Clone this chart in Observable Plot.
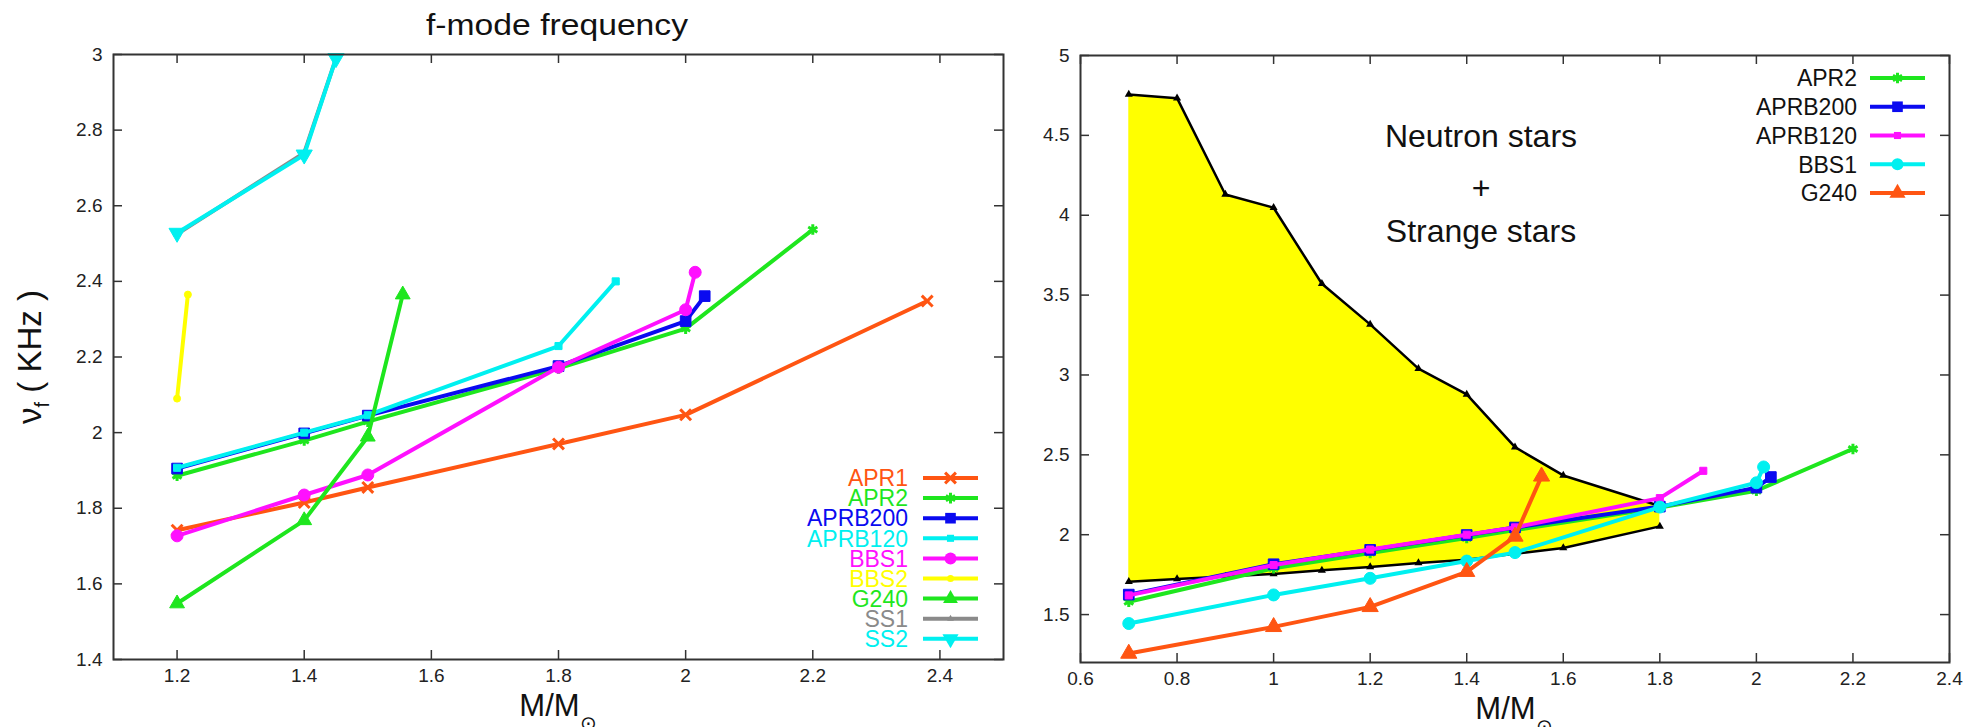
<!DOCTYPE html>
<html><head><meta charset="utf-8">
<script src="https://cdn.jsdelivr.net/npm/d3@7"></script>
<script src="https://cdn.jsdelivr.net/npm/@observablehq/plot@0.6"></script>
<style>
html,body{margin:0;padding:0;background:#fff;overflow:hidden;}
#root{position:relative;width:1982px;height:727px;overflow:hidden;font-family:"Liberation Sans",Arial,sans-serif;}
#left{position:absolute;left:0;top:0;}
#right{position:absolute;left:1030px;top:0;}
#overlay{position:absolute;left:0;top:0;pointer-events:none;}
</style></head>
<body><div id="root"><div id="left"></div><div id="right"></div><svg id="overlay" width="1982" height="727"></svg></div>
<script>
// ---------------- data ----------------
const leftXTicks = [1.2, 1.4, 1.6, 1.8, 2.0, 2.2, 2.4];
const leftYTicks = [1.4, 1.6, 1.8, 2.0, 2.2, 2.4, 2.6, 2.8, 3.0];
const rightXTicks = [0.6, 0.8, 1.0, 1.2, 1.4, 1.6, 1.8, 2.0, 2.2, 2.4];
const rightYTicks = [1.5, 2.0, 2.5, 3.0, 3.5, 4.0, 4.5, 5.0];

const apr1Mass = [1.2, 1.4, 1.5, 1.8, 2.0, 2.38];
const apr1Freq = [1.742, 1.815, 1.855, 1.970, 2.047, 2.348];
const apr2Mass = [0.7, 1.0, 1.2, 1.4, 1.5, 1.8, 2.0, 2.2];
const apr2Freq = [1.58, 1.79, 1.886, 1.979, 2.029, 2.17, 2.275, 2.537];
const aprb200Mass = [0.7, 1.0, 1.2, 1.4, 1.5, 1.8, 2.0, 2.03];
const aprb200Freq = [1.625, 1.815, 1.905, 1.998, 2.045, 2.176, 2.295, 2.361];
const aprb120Mass = [0.7, 1.0, 1.2, 1.4, 1.5, 1.8, 1.89];
const aprb120Freq = [1.62, 1.81, 1.907, 2.0, 2.046, 2.229, 2.4];
const bbs1Mass = [0.7, 1.0, 1.2, 1.4, 1.5, 1.8, 2.0, 2.015];
const bbs1Freq = [1.444, 1.623, 1.727, 1.835, 1.888, 2.173, 2.325, 2.424];
const bbs2Mass = [1.2, 1.217];
const bbs2Freq = [2.09, 2.365];
const g240Mass = [0.7, 1.0, 1.2, 1.4, 1.5, 1.555];
const g240Freq = [1.256, 1.423, 1.548, 1.768, 1.989, 2.365];
const ss1Mass = [1.2, 1.4, 1.45];
const ss1Freq = [2.525, 2.74, 2.99];
const ss2Mass = [1.2, 1.4, 1.45];
const ss2Freq = [2.528, 2.735, 2.99];

const bandMass = [0.7, 0.8, 0.9, 1.0, 1.1, 1.2, 1.3, 1.4, 1.5, 1.6, 1.8];
const bandUpper = [4.756, 4.733, 4.13, 4.047, 3.571, 3.317, 3.04, 2.879, 2.548, 2.371, 2.18];
const bandLower = [1.706, 1.723, 1.738, 1.754, 1.777, 1.798, 1.823, 1.844, 1.881, 1.917, 2.052];

const leftTitle = "f-mode frequency";
const annotLines = ["Neutron stars", "+", "Strange stars"];

// ---------------- styles ----------------
const COL = {orange: "#ff5512", green: "#1ee61e", blue: "#0a0af0", cyan: "#00f0f0",
  magenta: "#ff10ff", yellow: "#ffff00", grey: "#8a8a8a", black: "#000"};
const axisColor = "#333";
const FONT = '"Liberation Sans", Arial, sans-serif';
const fmt = d3.format("~g");
const rows = (mass, freq) => mass.map((m, i) => ({m, f: freq[i]}));

const leftSeries = [
  {name: "APR1", mass: apr1Mass, freq: apr1Freq, color: COL.orange, symbol: "times", r: 5},
  {name: "APR2", mass: apr2Mass, freq: apr2Freq, color: COL.green, symbol: "asterisk", r: 5},
  {name: "APRB200", mass: aprb200Mass, freq: aprb200Freq, color: COL.blue, symbol: "square", r: 6},
  {name: "APRB120", mass: aprb120Mass, freq: aprb120Freq, color: COL.cyan, symbol: "square", r: 4},
  {name: "BBS1", mass: bbs1Mass, freq: bbs1Freq, color: COL.magenta, symbol: "circle", r: 6},
  {name: "BBS2", mass: bbs2Mass, freq: bbs2Freq, color: COL.yellow, symbol: "circle", r: 3.5},
  {name: "G240", mass: g240Mass, freq: g240Freq, color: COL.green, symbol: "triangle", r: 5.5},
  {name: "SS1", mass: ss1Mass, freq: ss1Freq, color: COL.grey, symbol: "triangle", r: 2.5},
  {name: "SS2", mass: ss2Mass, freq: ss2Freq, color: COL.cyan, symbol: "triangle", r: 6, rotate: 180}
];
const rightSeries = [
  {name: "APR2", mass: apr2Mass, freq: apr2Freq, color: COL.green, symbol: "asterisk", r: 5},
  {name: "APRB200", mass: aprb200Mass, freq: aprb200Freq, color: COL.blue, symbol: "square", r: 6},
  {name: "APRB120", mass: aprb120Mass, freq: aprb120Freq, color: COL.magenta, symbol: "square", r: 4},
  {name: "BBS1", mass: bbs1Mass, freq: bbs1Freq, color: COL.cyan, symbol: "circle", r: 6},
  {name: "G240", mass: g240Mass, freq: g240Freq, color: COL.orange, symbol: "triangle", r: 6}
];
const stroked = s => s === "times" || s === "asterisk" || s === "plus";

function seriesMarks(s, data, sw) {
  const dotOpts = {x: "m", y: "f", symbol: s.symbol, r: s.r};
  if (s.rotate) dotOpts.rotate = s.rotate;
  if (stroked(s.symbol)) { dotOpts.stroke = s.color; dotOpts.strokeWidth = 3; dotOpts.fill = "none"; }
  else { dotOpts.fill = s.color; dotOpts.stroke = s.color; dotOpts.strokeWidth = 1; }
  return [Plot.line(data, {x: "m", y: "f", stroke: s.color, strokeWidth: sw, strokeLinejoin: "round"}),
          Plot.dot(data, dotOpts)];
}

function frameMarks(xt, yt, innerW, innerH) {
  const t = 9, o = {stroke: axisColor, strokeWidth: 1.5};
  return [
    Plot.tickX(xt, {x: d => d, insetTop: innerH - t, ...o}),
    Plot.tickX(xt, {x: d => d, insetBottom: innerH - t, ...o}),
    Plot.tickY(yt, {y: d => d, insetRight: innerW - t, ...o}),
    Plot.tickY(yt, {y: d => d, insetLeft: innerW - t, ...o}),
    Plot.frame({stroke: axisColor, strokeWidth: 2}),
    Plot.axisX({ticks: xt, tickFormat: fmt, tickSize: 0, tickPadding: 9, fontSize: 19, label: null, fill: "#222"}),
    Plot.axisY({ticks: yt, tickFormat: fmt, tickSize: 0, tickPadding: 11, fontSize: 19, label: null, fill: "#222"})
  ];
}

// ---------------- left chart ----------------
{
  const W = 1030, H = 727, mL = 113, mR = 27, mT = 54, mB = 68;
  const marks = [];
  for (const s of leftSeries) {
    const data = rows(s.mass, s.freq).filter(d => d.m >= 1.15);
    marks.push(...seriesMarks(s, data, 4));
  }
  marks.push(...frameMarks(leftXTicks, leftYTicks, W - mL - mR, H - mT - mB));
  const chart = Plot.plot({
    width: W, height: H, marginLeft: mL, marginRight: mR, marginTop: mT, marginBottom: mB,
    x: {domain: [1.1, 2.5]}, y: {domain: [1.4, 3.0]},
    style: {fontFamily: FONT, background: "white", overflow: "visible"},
    marks
  });
  document.getElementById("left").appendChild(chart);
}

// ---------------- right chart ----------------
{
  const W = 952, H = 727, mL = 50, mR = 33, mT = 55, mB = 65;
  const band = bandMass.map((m, i) => ({m, lo: bandLower[i], hi: bandUpper[i]}));
  const marks = [
    Plot.areaY(band, {x: "m", y1: "lo", y2: "hi", fill: COL.yellow}),
    Plot.line(band, {x: "m", y: "hi", stroke: "#000", strokeWidth: 2.5}),
    Plot.dot(band, {x: "m", y: "hi", symbol: "triangle", r: 3, fill: "#000"}),
    Plot.line(band, {x: "m", y: "lo", stroke: "#000", strokeWidth: 2.5}),
    Plot.dot(band, {x: "m", y: "lo", symbol: "triangle", r: 3, fill: "#000"})
  ];
  for (const s of rightSeries) marks.push(...seriesMarks(s, rows(s.mass, s.freq), 4));
  marks.push(...frameMarks(rightXTicks, rightYTicks, W - mL - mR, H - mT - mB));
  const chart = Plot.plot({
    width: W, height: H, marginLeft: mL, marginRight: mR, marginTop: mT, marginBottom: mB,
    x: {domain: [0.6, 2.4]}, y: {domain: [1.2, 5.0]},
    style: {fontFamily: FONT, background: "white", overflow: "visible"},
    marks
  });
  document.getElementById("right").appendChild(chart);
}

// ---------------- texts & legends ----------------
const svg = d3.select("#overlay").style("font-family", FONT);
svg.append("text").attr("x", 557).attr("y", 35).attr("text-anchor", "middle")
  .attr("font-size", 30).attr("textLength", 262).attr("lengthAdjust", "spacingAndGlyphs")
  .attr("fill", "#111").text(leftTitle);

// y label (left)
{
  const t = svg.append("text").attr("transform", "translate(41,357) rotate(-90)")
    .attr("text-anchor", "middle").attr("font-size", 33).attr("fill", "#111");
  t.append("tspan").text("ν");
  t.append("tspan").attr("dy", 8).attr("font-size", 20).text("f");
  t.append("tspan").attr("dy", -8).text(" ( KHz )");
}
// x labels
for (const [cx, by] of [[558, 716], [1514, 719]]) {
  const t = svg.append("text").attr("x", cx).attr("y", by).attr("text-anchor", "middle")
    .attr("font-size", 31).attr("fill", "#111");
  t.append("tspan").text("M/M");
  t.append("tspan").attr("dy", 14).attr("font-size", 20).text("⊙");
}
// annotation
const annY = [147, 199, 242];
annotLines.forEach((s, i) => svg.append("text").attr("x", 1481).attr("y", annY[i])
  .attr("text-anchor", "middle").attr("font-size", 32).attr("fill", "#111").text(s));

function symbolFor(s) {
  const map = {times: d3.symbolTimes, asterisk: d3.symbolAsterisk, square: d3.symbolSquare,
    circle: d3.symbolCircle, triangle: d3.symbolTriangle};
  return d3.symbol().type(map[s.symbol]).size(Math.PI * s.r * s.r)();
}
function legend(series, opts) {
  series.forEach((s, i) => {
    const cy = opts.y0 + i * opts.dy;
    svg.append("text").attr("x", opts.textX).attr("y", cy + opts.fs * 0.36)
      .attr("text-anchor", "end").attr("font-size", opts.fs)
      .attr("fill", opts.textColor || s.color).text(s.name);
    svg.append("line").attr("x1", opts.l1).attr("x2", opts.l2).attr("y1", cy).attr("y2", cy)
      .attr("stroke", s.color).attr("stroke-width", 4);
    const p = svg.append("path").attr("d", symbolFor(s))
      .attr("transform", `translate(${(opts.l1 + opts.l2) / 2},${cy})` + (s.rotate ? ` rotate(${s.rotate})` : ""));
    if (stroked(s.symbol)) p.attr("fill", "none").attr("stroke", s.color).attr("stroke-width", 3);
    else p.attr("fill", s.color);
  });
}
legend(leftSeries, {y0: 478, dy: 20.1, textX: 908, l1: 923, l2: 978, fs: 23});
legend(rightSeries, {y0: 78, dy: 28.75, textX: 1857, l1: 1870, l2: 1925, fs: 23, textColor: "#111"});
</script>
</body></html>
